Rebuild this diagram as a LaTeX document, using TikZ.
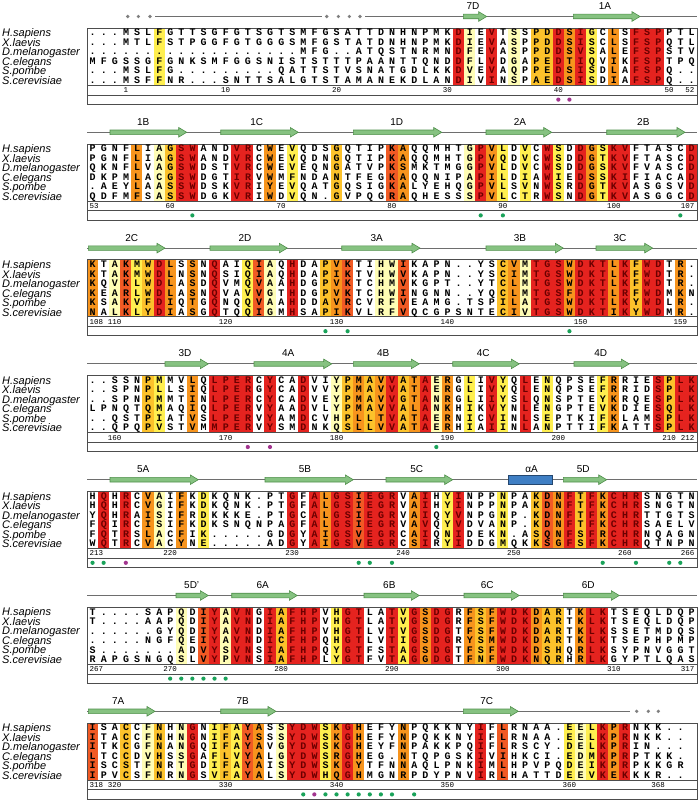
\documentclass[tikz,border=0pt]{standalone}
\usepackage{fontspec}
\setmainfont{Liberation Sans}
\newfontfamily\seqfont{Liberation Mono}
\newfontfamily\numfont{Liberation Mono}
\definecolor{cR}{HTML}{E5231F}
\definecolor{cO}{HTML}{F15A24}
\definecolor{cA}{HTML}{F7941D}
\definecolor{cG}{HTML}{FCC22B}
\definecolor{cY}{HTML}{FFEF4F}
\definecolor{cP}{HTML}{FFFDB5}
\definecolor{txtred}{HTML}{6B0000}
\definecolor{arrfill}{HTML}{86C281}
\definecolor{arrdraw}{HTML}{4F8F4A}
\definecolor{helixfill}{HTML}{3F7FC4}
\definecolor{helixdraw}{HTML}{24476F}
\definecolor{dotgreen}{HTML}{1AA35A}
\definecolor{dotpurple}{HTML}{A2358F}
\definecolor{dotgray}{HTML}{7F7F7F}
\definecolor{ssline}{HTML}{6E6E6E}
\definecolor{framegray}{HTML}{4D4D4D}
\newcount\seqci
\def\cw{11.09}
\def\xo{87}
\def\xr{696.95}
\def\setcolsloop#1{\ifx#1\relax\else\expandafter\def\csname cc\the\seqci\endcsname{#1}\advance\seqci by 1 \expandafter\setcolsloop\fi}
\def\fillloop#1{\ifx#1\relax\else\if#1.\else\pgfmathsetmacro\cx{\xo+\the\seqci*\cw}\fill[c#1] (\cx,\Ty) rectangle ++(\cw,57);\fi\advance\seqci by 1 \expandafter\fillloop\fi}
\newcommand\blockcols[1]{\seqci=0 \setcolsloop#1\relax\seqci=0 \fillloop#1\relax}
\def\seqloop#1{\ifx#1\relax\else\makebox[11.09pt]{\if R\csname cc\the\seqci\endcsname\color{txtred}\fi#1}\advance\seqci by 1 \expandafter\seqloop\fi}
\newcommand\seqtext[1]{\seqci=0 \seqloop#1\relax}
\newcommand\blockgeom[1]{%
  \pgfmathsetmacro\Fy{33+115.8*#1}%
  \pgfmathsetmacro\Ty{\Fy-4.75}%
  \pgfmathsetmacro\Ly{\Fy-16.5}%
  \pgfmathsetmacro\Laby{\Fy-27}%
  \pgfmathsetmacro\Nmy{\Fy+57.2}%
  \pgfmathsetmacro\Dty{\Fy+66.6}}
\newcommand\frameblock{%
  \draw[frame] (\xo,\Ty) rectangle (\xr,\Fy+71.2);
  \draw[frame] (\xo,\Ty+57) -- (\xr,\Ty+57);
  \draw[frame] (\xo,\Fy+62) -- (\xr,\Fy+62);}
\newcommand\seqrows[7]{%
  \node[seqtxt] (sq#1a) at (\xo,\Fy+3) {\seqtext{#2}};
  \node[seqtxt] (sq#1b) at (\xo,\Fy+12.5) {\seqtext{#3}};
  \node[seqtxt] (sq#1c) at (\xo,\Fy+22) {\seqtext{#4}};
  \node[seqtxt] (sq#1d) at (\xo,\Fy+31.5) {\seqtext{#5}};
  \node[seqtxt] (sq#1e) at (\xo,\Fy+41) {\seqtext{#6}};
  \node[seqtxt] (sq#1f) at (\xo,\Fy+50.5) {\seqtext{#7}};}
\newcommand\names[1]{%
  \node[nm] (nmh#1) at (2,\Fy+3.9) {H.sapiens};
  \node[nm] (nmx#1) at (2,\Fy+13.4) {X.laevis};
  \node[nm] (nmd#1) at (2,\Fy+22.9) {D.melanogaster};
  \node[nm] (nmc#1) at (2,\Fy+32.4) {C.elegans};
  \node[nm] (nmp#1) at (2,\Fy+41.9) {S.pombe};
  \node[nm] (nme#1) at (2,\Fy+51.4) {S.cerevisiae};}
\newcommand\numC[2]{\pgfmathsetmacro\cx{\xo+(#1+0.5)*\cw}\node[numtxt] (num#2) at (\cx,\Nmy) {#2};}
\newcommand\numL[1]{\node[numtxt,anchor=west] (num#1) at (\xo+2.5,\Nmy) {#1};}
\newcommand\numR[1]{\node[numtxt,anchor=east] (num#1) at (\xr-2.5,\Nmy) {#1};}
\newcommand\gd[1]{\pgfmathsetmacro\cx{\xo+(#1+0.5)*\cw}\fill[dotgreen] (\cx,\Dty) circle (2.1pt);}
\newcommand\pd[1]{\pgfmathsetmacro\cx{\xo+(#1+0.5)*\cw}\fill[dotpurple] (\cx,\Dty) circle (2.1pt);}
\newcommand\gry[1]{\fill[dotgray] (#1,\Ly) circle (1.8pt);}
\newcommand\sa[5]{%
  \draw[ssarrow] (#2,\Ly-2.3) -- ({#3-8},\Ly-2.3) -- ({#3-8},\Ly-4.8) -- (#3,\Ly) -- ({#3-8},\Ly+4.8) -- ({#3-8},\Ly+2.3) -- (#2,\Ly+2.3) -- cycle;
  \node[sslabel] (#1) at (#4,\Laby) {#5};}
\tikzset{
  seqtxt/.style={anchor=base west, inner sep=0pt, font=\seqfont\bfseries\fontsize{10}{10}\selectfont},
  nm/.style={anchor=base west, inner sep=0pt, font=\itshape\fontsize{11}{11}\selectfont},
  numtxt/.style={inner sep=0pt, font=\numfont\fontsize{7.5}{7.5}\selectfont},
  sslabel/.style={inner sep=0pt, font=\fontsize{10}{10}\selectfont},
  ssarrow/.style={fill=arrfill, draw=arrdraw, line width=0.6pt, line join=miter},
  helixbox/.style={fill=helixfill, draw=helixdraw, line width=0.6pt},
  ssl/.style={draw=ssline, line width=1pt},
  frame/.style={draw=framegray, line width=0.8pt},
}
\begin{document}
\begin{tikzpicture}[x=1pt,y=-1pt]
\useasboundingbox (0,0) rectangle (700,800);
\fill[white] (0,0) rectangle (700,800);
% ---------------- Block 1
\blockgeom{0}
\blockcols{......Y..........................RP.R.P.GGRARY.A.RRR...}
\frameblock
\seqrows{1}{...MSLFGTTSGFGTSGTSMFGSATTDNHNPMKDIEVTSSPDDSIGCLSFSPPTL}{...MTLFSTPGGFGTGGGSMFGSTATDNHNPMKDIEVASPPDDSISCLSFSPQTL}{...................MFG..ATQSTNRMNDFEVASPPDDSVSALEFSPSTV}{MFGSSGFGNKSMFGGSNISTSTTTPAANTTQNDDFLVDGAPEDTIQVIKFSPTPQ}{...MSLFG.........QATTSTVSNATGDLKKDVEVAQPPEDSISDLAFSPQ..}{...MSFFNR...SNTTSALGTSTAMANEKDLANDIVINSPAEDSISDIAFSPQ..}
\names{1}
\draw[ssl] (155,\Ly) -- (321.7,\Ly);
\draw[ssl] (365,\Ly) -- (\xr,\Ly);
\gry{127.7}\gry{138.3}\gry{150}\gry{326.7}\gry{338.3}\gry{349.3}\gry{360}
\sa{l7D}{463.3}{486.7}{473}{7D}
\sa{l1A}{573.3}{640}{605}{1A}
\numC{3}{1}\numC{12}{10}\numC{22}{20}\numC{32}{30}\numC{42}{40}\numC{52}{50}\numR{52}
\pd{42}\pd{43}
% ---------------- Block 2
\blockgeom{1}
\blockcols{....A.PGRR...RR.A.Y...G....OA.....PRAY.Y.RY.RAYRR.....R}
\frameblock
\seqrows{2}{PGNFLIAGSWANDVRCWEVQDSGQTIPKAQQMHTGPVLDVCWSDDGSKVFTASCD}{PGNFLIAGSWANDVRCWEVQDNGQTIPKAQQMHTGPVQDVCWSDDGTKVFTASCD}{QKNFLVAGSWDSTVRCWEVEQNGATVPKSMKTMGGPVLDVCWSDDGSKVFVASCD}{DKPMLACGSWDGTIRVWMFNDANTFEGKAQQNIPAPILDIAWIEDSSKIFIACAD}{.AEYLAASSWDSKVRIYEVQATGQSIGKALYEHQGPVLSVNWSRDGTKVASGSVD}{QDFMFSASSWDGKVRIWDVQN.GVPQGRAQHESSSPVLCTRWSNDGTKVASGGCD}
\names{2}
\draw[ssl] (\xo,\Ly) -- (\xr,\Ly);
\sa{l1B}{110}{186.7}{143.3}{1B}
\sa{l1C}{220.7}{298.3}{256.7}{1C}
\sa{l1D}{353.3}{441.7}{396.7}{1D}
\sa{l2A}{486}{551.7}{520}{2A}
\sa{l2B}{606.7}{685}{643.3}{2B}
\numL{53}\numC{7}{60}\numC{17}{70}\numC{27}{80}\numC{37}{90}\numC{47}{100}\numR{107}
\gd{9}\gd{35}\gd{37}\gd{53}
% ---------------- Block 3
\blockgeom{2}
\blockcols{A.POYGRA.A.R..YOP.R..GAO..PPO........GAPRRRARRRARGRR.A.}
\frameblock
\seqrows{3}{KTAKMWDLSSNQAIQIAQHDAPVKTIHWIKAPN..YSCVMTGSWDKTLKFWDTR.}{KTAKMWDLNSNQSIQIAQHDAPIKTVHWVKAPN..YSCIMTGSWDKTLKFWDTR.}{KQVKLWDLASDQVMQVAAHDGPVKTCHMVKGPT..YTCLMTGSWDKTLKFWDTR.}{KEARLWDLASNQVAVVGTHDGPVKTCHWINGNN..YQCLMTGSFDKTLRFWDMKN}{KSAKVFDIQTGQNQQVAAHDDAVRCVRFVEAMG.TSPILATGSWDKTLKYWDLR.}{NALKLYDIASGQTQQIGMHSAPIKVLRFVQCGPSNTECIVTGSWDKTIKYWDMR.}
\names{3}
\draw[ssl] (\xo,\Ly) -- (\xr,\Ly);
\sa{l2C}{88.3}{165}{131.7}{2C}
\sa{l2D}{210}{287.3}{245}{2D}
\sa{l3A}{341.7}{420}{376.7}{3A}
\sa{l3B}{486}{563.3}{520}{3B}
\sa{l3C}{596}{652.7}{620}{3C}
\numL{108}\numC{2}{110}\numC{12}{120}\numC{22}{130}\numC{32}{140}\numC{44}{150}\numC{53}{159}
\gd{21}\gd{23}\gd{43}
% ---------------- Block 4
\blockgeom{3}
\blockcols{.....GY..A.RRRR.R..R..PGAGARGARPA.Y.RY.R.Y....YA...RGRR}
\frameblock
\seqrows{4}{..SSNPMMVLQLPERCYCADVIYPMAVVATAERGLIVYQLENQPSEFRRIESPLK}{..SPNPLLSIQLPERGYCADVVYPMAVVATAERGLIVYQLENQPSEFRRIDSPLK}{..SPNPMMTINLPERCYCADVEYPMAVVGTANRGLIIYSLQNSPTEYKRQESPLK}{LPNQTQMAQIQLPERVYAADVLYPMAVVALANKHIKVYNLENGPTEVKDIESQLK}{..QSTPIATVSLPERVYAMDCVHPLLTVATAERNICVINLSEPTKIFKLAMSPLK}{..QPQPVSTVMMPERVYSMDNKQSLLVVATAERHIAIINLANPTTIFKATTSPLK}
\names{4}
\draw[ssl] (\xo,\Ly) -- (\xr,\Ly);
\sa{l3D}{165}{208.3}{185}{3D}
\sa{l4A}{254}{331.7}{288.3}{4A}
\sa{l4B}{353.3}{419.3}{383.3}{4B}
\sa{l4C}{452.7}{519.3}{483.3}{4C}
\sa{l4D}{574}{629.3}{600.7}{4D}
\numC{2}{160}\numC{12}{170}\numC{22}{180}\numC{32}{190}\numC{42}{200}\numC{52}{210}\numR{212}
\pd{14}\pd{16}\gd{31}
% ---------------- Block 5
\blockgeom{4}
\blockcols{.R.R.AP.A.Y.......R.RARRORRR.AR.YR...Y..GOARGRARRR.....}
\frameblock
\seqrows{5}{HQHRCVAIFKDKQNK.PTGFALGSIEGRVAIHYINPPNPAKDNFTFKCHRSNGTN}{HQHRCVGIFKDKQNK.PTGFALGSIEGRVAIHYINPPNPAKDNFTFKCHRSNGTN}{YQHRAISIFRDKKKE.PTGCALGSIEGRVAIQYVNPGNP.KDNFTFKCHRTTGTS}{FQIRCISIFKDKSNQNPAGFALGSIEGRVAVQYVDVANP.KDNFTFKCHRSAELV}{FQTRSLACFIK.....GDGYAIGSVEGRCAIQNIDEKN.ASQNFSFRCHRNQAGN}{WQTRCVACYNE.....ADGYAIGSVEGRCSIRYIDDGMQKKSGFSFKCHRQTNPN}
\names{5}
\draw[ssl] (\xo,\Ly) -- (\xr,\Ly);
\sa{l5A}{110}{198.3}{143.3}{5A}
\sa{l5B}{265}{353.3}{305}{5B}
\sa{l5C}{386}{452.7}{416.7}{5C}
\draw[helixbox] (508.3,\Ly-4.2) rectangle (552.7,\Ly+4.2);
\node[sslabel] (lalphaA) at (531.5,\Laby) {αA};
\sa{l5D}{563.3}{606.7}{583.3}{5D}
\numL{213}\numC{7}{220}\numC{18}{230}\numC{28}{240}\numC{38}{250}\numC{48}{260}\numR{266}
\gd{0}\gd{1}\pd{3}\gd{24}\gd{25}\gd{27}\gd{46}\gd{49}\gd{52}\gd{53}
% ---------------- Block 6
\blockgeom{5}
\blockcols{........P.ORPRR.RGRRR.YRR..RYRARR.AGARRRAGG.ARR........}
\frameblock
\seqrows{6}{T....SAPQDIYAVNGIAFHPVHGTLATVGSDGRFSFWDKDARTKLKTSEQLDQP}{T....AAPQDIYAVNDIAFHPVHGTLATVGSDGRFSFWDKDARTKLKTSEQLDQP}{......GYQDIYAVNDIAFHPVHGTLVTVGSDGTFSFWDKDARTKLKSSETMDQS}{.....NGFQEIYAVNDICFHPQHGTLVTIGSDGRYSMWDKDARTKLKTSEPHPMP}{S.......ADVYSVNSIAFHPQYGTFSTAGSDGTFSFWDKDSHQRLKSYPNVGGT}{RAPGSNGQSLVYPVNSIAFHPLYGTFVTAGGDGTFNFWDKNQRHRLKGYPTLQAS}
\names{6}
\draw[ssl] (\xo,\Ly) -- (\xr,\Ly);
\sa{l5Dp}{176}{208.3}{191.7}{5D'}
\sa{l6A}{231.7}{297.3}{262.7}{6A}
\sa{l6B}{364}{419.3}{389.3}{6B}
\sa{l6C}{464}{519.3}{487.3}{6C}
\sa{l6D}{563.3}{619.3}{588.3}{6D}
\numL{267}\numC{7}{270}\numC{17}{280}\numC{27}{290}\numC{37}{300}\numC{47}{310}\numR{317}
\gd{7}\gd{8}\gd{9}\gd{10}\gd{11}\gd{12}
% ---------------- Block 7
\blockgeom{6}
\blockcols{O..G.PG.PR.YGYOA.PRRRYARA...A......R.O.....YPYRAR.....}
\frameblock
\seqrows{7}{ISACCFNHNGNIFAYASSYDWSKGHEFYNPQKKNYIFLRNAA.EELKPRNKK..}{ITACCFNHNGNIFAYSSSYDWSKGHEFYNPQKKNYIFLRNAA.EELKPRNKK..}{ITKCGFNANGQIFAYAVGYDWSKGHEYFNPAKKPQIFLRSCY.DELKPRIN...}{LTCCDVHSSGAFLVYALGYDWSRGHEG.NTQPGSKIVIHKCI.EDMKPRPTKK.}{ISCSTFNRTGDIFAYAISYDWSKGYTFNNAQLPNKIMLHPVPQDEIKPRPKKGR}{IPVCSFNRNGSVFAYALSYDWHQGHMGNRPDYPNVIRLHATTDEEVKEKKKR..}
\names{7}
\draw[ssl] (\xo,\Ly) -- (630,\Ly);
\gry{636.7}\gry{648.3}\gry{658.3}
\sa{l7A}{88.3}{155}{118.3}{7A}
\sa{l7B}{220.7}{276}{242.7}{7B}
\sa{l7C}{463.3}{518.3}{486.7}{7C}
\numL{318}\numC{2}{320}\numC{12}{330}\numC{22}{340}\numC{32}{350}\numC{43}{360}\numC{51}{368}
\gd{19}\pd{20}\gd{21}\gd{22}\gd{23}\gd{24}\gd{25}\gd{26}\gd{27}\gd{29}
\end{tikzpicture}
\end{document}
